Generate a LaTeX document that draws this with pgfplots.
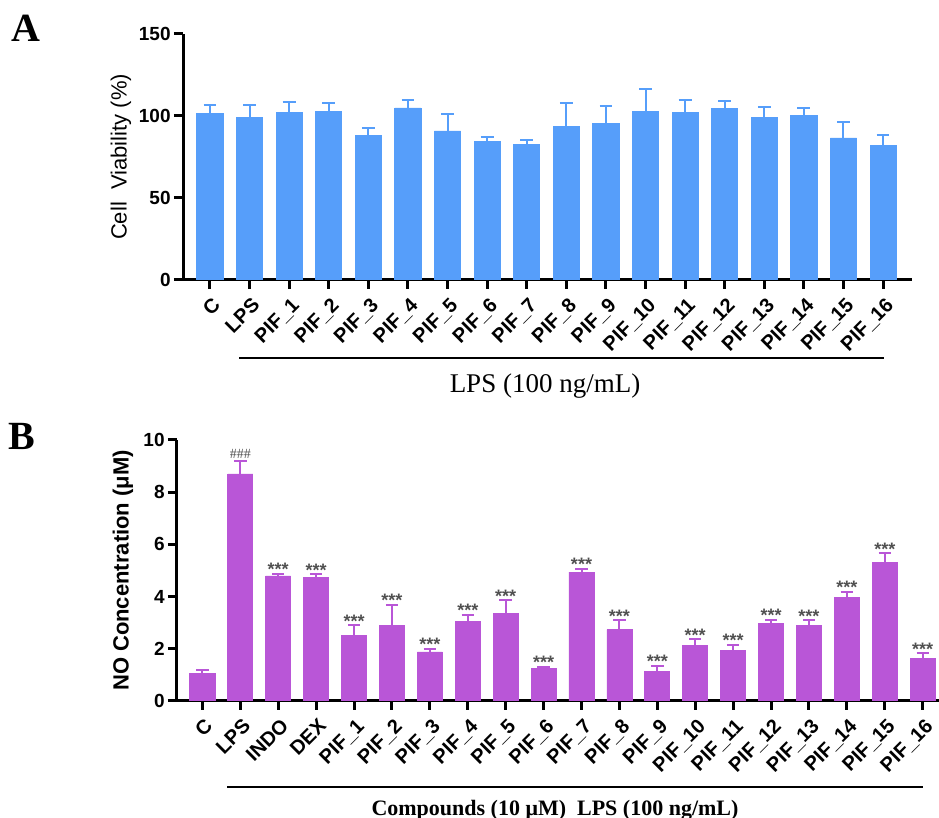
\documentclass[border=0pt]{standalone}
\usepackage{fontspec}
\setmainfont{Liberation Serif}
\setsansfont{Liberation Sans}
\usepackage{pgfplots}
\usepackage{pgfplotstable}
\pgfplotsset{compat=1.18}
\definecolor{barA}{RGB}{86,158,250}
\definecolor{barB}{RGB}{185,86,215}
\definecolor{stars}{RGB}{80,80,80}

\pgfplotstableread{
x y err
0 101.4 5.3
1 99.2 7.5
2 102.4 6.3
3 102.6 5.5
4 88.4 4.5
5 104.9 5.0
6 90.9 10.3
7 84.6 2.8
8 82.7 2.7
9 93.5 14.6
10 95.3 10.8
11 102.6 14.0
12 102.2 7.6
13 104.7 4.5
14 99.2 6.5
15 100.2 4.9
16 86.6 9.9
17 81.9 6.7
}\dataA

\pgfplotstableread{
x y err
0 1.05 0.15
1 8.70 0.51
2 4.79 0.09
3 4.73 0.12
4 2.50 0.40
5 2.91 0.78
6 1.88 0.12
7 3.05 0.25
8 3.36 0.50
9 1.24 0.07
10 4.94 0.12
11 2.73 0.36
12 1.12 0.23
13 2.12 0.24
14 1.92 0.24
15 2.98 0.14
16 2.89 0.21
17 3.96 0.22
18 5.31 0.35
19 1.62 0.21
}\dataB

\pgfplotsset{
  panel/.style={
    scale only axis,
    axis x line*=bottom,
    axis y line*=left,
    axis line style={-, line width=1.5pt, black},
    tick style={line width=1.5pt, black},
    major tick length=4.5pt,
    tick align=outside,
    /pgf/number format/assume math mode=true,
    yticklabel style={font=\sffamily\bfseries\fontsize{9.5}{10}\selectfont, inner sep=1.5pt},
    xticklabel style={font=\sffamily\bfseries\fontsize{10}{10}\selectfont, rotate=45, anchor=north east, inner sep=0pt, xshift=-2pt, yshift=-3pt},
    xtick=data,
    ymin=0,
  },
}

\begin{document}
\begin{tikzpicture}
\useasboundingbox (0,0) rectangle (469.5pt,409pt);

% Panel A
\begin{axis}[panel,
  at={(91.5pt,269pt)}, anchor=south west,
  width=364.5pt, height=123pt,
  xmin=-0.68, xmax=17.73, ymax=150,
  ytick={0,50,100,150},
  xticklabels={C,LPS,PIF\_1,PIF\_2,PIF\_3,PIF\_4,PIF\_5,PIF\_6,PIF\_7,PIF\_8,PIF\_9,PIF\_10,PIF\_11,PIF\_12,PIF\_13,PIF\_14,PIF\_15,PIF\_16},
  ylabel={Cell\ \ Viability (\%)},
  ylabel style={font=\sffamily\fontsize{11}{12}\selectfont, at={(axis description cs:-0.085,0.5)}, anchor=center},
]
\addplot[ybar, bar shift=0pt, bar width=0.66, fill=barA, draw=barA,
  error bars/.cd, y dir=plus, y explicit,
  error bar style={line width=1pt, barA},
  error mark options={rotate=90, mark size=3.2pt, line width=1pt, barA}]
  table[x=x, y=y, y error=err] {\dataA};
\end{axis}

% Panel B
\begin{axis}[panel,
  at={(88.5pt,58.5pt)}, anchor=south west,
  width=381pt, height=130.5pt,
  xmin=-0.67, xmax=19.43, ymax=10,
  ytick={0,2,4,6,8,10},
  xticklabels={C,LPS,INDO,DEX,PIF\_1,PIF\_2,PIF\_3,PIF\_4,PIF\_5,PIF\_6,PIF\_7,PIF\_8,PIF\_9,PIF\_10,PIF\_11,PIF\_12,PIF\_13,PIF\_14,PIF\_15,PIF\_16},
  ylabel={NO Concentration (μM)},
  ylabel style={font=\sffamily\bfseries\fontsize{11}{12}\selectfont, at={(axis description cs:-0.071,0.5)}, anchor=center},
]
\addplot[ybar, bar shift=0pt, bar width=0.66, fill=barB, draw=barB,
  error bars/.cd, y dir=plus, y explicit,
  error bar style={line width=1pt, barB},
  error mark options={rotate=90, mark size=3.1pt, line width=1pt, barB}]
  table[x=x, y=y, y error=err] {\dataB};
\addplot[draw=none, mark=none, restrict x to domain=2:19,
  nodes near coords={***},
  nodes near coords style={anchor=base, inner sep=0pt, yshift=-1pt, text=stars, font=\sffamily\bfseries\fontsize{9}{9}\selectfont}]
  table[x=x, y expr=\thisrow{y}+\thisrow{err}] {\dataB};
\addplot[draw=none, mark=none, restrict x to domain=1:1,
  nodes near coords={\#\#\#},
  nodes near coords style={anchor=base, inner sep=0pt, yshift=1.2pt, text=stars, font=\fontsize{7}{7}\selectfont}]
  table[x=x, y expr=\thisrow{y}+\thisrow{err}] {\dataB};
\end{axis}

% annotations
\draw[line width=0.65pt] (119.5pt,230pt) -- (442pt,230pt);
\node[anchor=base, inner sep=0pt, font=\fontsize{13.5}{14}\selectfont] at (272.5pt,212.5pt) {LPS (100 ng/mL)};
\draw[line width=0.65pt] (113.5pt,15.5pt) -- (461.5pt,15.5pt);
\node[anchor=base, inner sep=0pt, font=\bfseries\fontsize{11}{12}\selectfont] at (277.5pt,1pt) {Compounds (10 μM)\ \ LPS (100 ng/mL)};
\node[font=\bfseries\fontsize{20}{20}\selectfont, inner sep=0pt] at (13pt,395pt) {A};
\node[font=\bfseries\fontsize{20}{20}\selectfont, inner sep=0pt] at (10.75pt,190.75pt) {B};
\end{tikzpicture}
\end{document}
